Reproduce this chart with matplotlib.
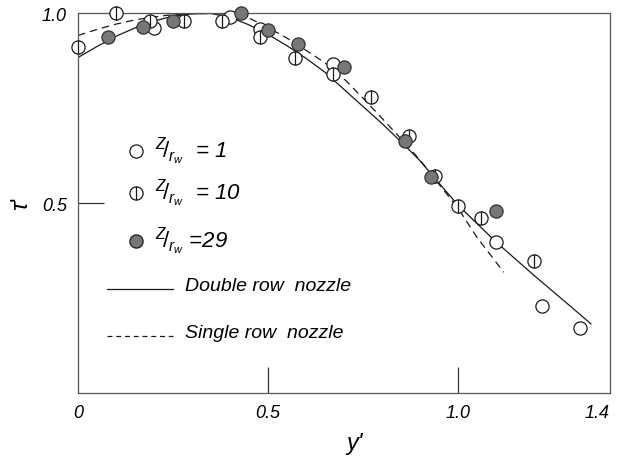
import matplotlib
matplotlib.use("Agg")
import matplotlib.pyplot as plt
from matplotlib.path import Path
from matplotlib.lines import Line2D

plt.rcParams['font.family'] = ['Liberation Sans', 'DejaVu Sans']
plt.rcParams['mathtext.fontset'] = 'custom'
plt.rcParams['mathtext.it'] = 'Liberation Sans:italic'
plt.rcParams['mathtext.rm'] = 'Liberation Sans'

# ---- data ----
z1_x = [0.20, 0.40, 0.48, 0.67, 1.10, 1.22, 1.32]
z1_y = [0.962, 0.990, 0.959, 0.867, 0.399, 0.230, 0.170]

z10_x = [0.0, 0.10, 0.19, 0.28, 0.38, 0.48, 0.57, 0.67, 0.77, 0.87, 0.94, 1.00, 1.06, 1.20]
z10_y = [0.913, 1.0, 0.981, 0.981, 0.981, 0.939, 0.883, 0.841, 0.779, 0.676, 0.571, 0.494, 0.460, 0.349]

z29_x = [0.08, 0.17, 0.25, 0.43, 0.50, 0.58, 0.70, 0.86, 0.93, 1.10]
z29_y = [0.937, 0.964, 0.981, 1.0, 0.957, 0.920, 0.858, 0.665, 0.568, 0.480]

double_x = [0, 0.05, 0.10, 0.15, 0.20, 0.25, 0.30, 0.35, 0.40, 0.45, 0.50, 0.55, 0.60, 0.65,
            0.70, 0.75, 0.80, 0.85, 0.90, 0.95, 1.00, 1.10, 1.20, 1.30, 1.35]
double_y = [0.884, 0.913, 0.940, 0.962, 0.980, 0.993, 0.999, 1.0, 0.990, 0.970, 0.945, 0.915,
            0.882, 0.845, 0.800, 0.755, 0.710, 0.662, 0.612, 0.553, 0.495, 0.398, 0.310, 0.225, 0.182]

single_x = [0, 0.05, 0.10, 0.15, 0.20, 0.25, 0.30, 0.35, 0.40, 0.45, 0.50, 0.55, 0.60, 0.65,
            0.70, 0.75, 0.80, 0.85, 0.90, 0.95, 1.00, 1.05, 1.10, 1.12]
single_y = [0.942, 0.958, 0.972, 0.983, 0.991, 0.997, 1.0, 1.0, 0.998, 0.988, 0.963, 0.935,
            0.903, 0.870, 0.828, 0.777, 0.724, 0.670, 0.614, 0.550, 0.487, 0.410, 0.345, 0.318]

xticks = [0, 0.5, 1.0, 1.4]
xticklabels = ['0', '0.5', '1.0', '1.4']
yticks = [0.5, 1.0]
yticklabels = ['0.5', '1.0']

legend_labels = [r'$^{Z}\!/_{r_w}$  = 1', r'$^{Z}\!/_{r_w}$  = 10', r'$^{Z}\!/_{r_w}$ =29',
                 'Double row  nozzle', 'Single row  nozzle']

# ---- marker for Z/rw = 10: circle with vertical bar ----
bar_marker = Path.make_compound_path(Path.unit_circle(),
                                     Path([(0, -1), (0, 1)], [Path.MOVETO, Path.LINETO]))

fig = plt.figure(figsize=(6.22, 4.6), dpi=100)
ax = fig.add_axes([0.1254, 0.1435, 0.8553, 0.825])
ax.set_xlim(0, 1.4)
ax.set_ylim(0, 1.0)

ink = '#1a1a1a'
ms = 9.5
ax.plot(double_x, double_y, '-', color=ink, lw=0.9, zorder=2)
ax.plot(single_x, single_y, '--', color=ink, lw=0.9, dashes=(6, 4), zorder=2)

ax.plot(z1_x, z1_y, 'o', ms=ms, mfc='white', mec=ink, mew=0.9, ls='none', zorder=3, clip_on=False)
ax.plot(z10_x, z10_y, marker=bar_marker, ms=ms, mfc='white', mec=ink, mew=0.9, ls='none',
        zorder=4, clip_on=False)
ax.plot(z29_x, z29_y, 'o', ms=ms, mfc='#777777', mec='#333333', mew=0.9, ls='none',
        zorder=5, clip_on=False)

for s in ax.spines.values():
    s.set_color('#555555')
    s.set_linewidth(0.9)

ax.set_xticks(xticks)
ax.set_xticklabels(xticklabels)
ax.set_yticks(yticks)
ax.set_yticklabels(yticklabels)
ax.tick_params(direction='in', length=19, width=0.9, color='#333333', labelsize=13, pad=8)
for t in ax.get_xticklabels() + ax.get_yticklabels():
    t.set_fontstyle('italic')
ax.get_xticklabels()[-1].set_horizontalalignment('right')
xt = ax.xaxis.get_major_ticks()
xt[0].tick1line.set_visible(False)
xt[-1].tick1line.set_visible(False)
ax.yaxis.get_major_ticks()[-1].tick1line.set_visible(False)

ax.set_xlabel("y'", fontsize=17, style='italic')
ax.xaxis.set_label_coords(0.52, -0.10)
ax.set_ylabel(r"$\tau$'", fontsize=17, rotation=90)
ax.yaxis.set_label_coords(-0.085, 0.5)

# ---- hand-drawn style legend inside the axes ----
tr = ax.transAxes
rows_y = [0.638, 0.527, 0.400, 0.274, 0.150]
styles = [dict(marker='o', mfc='white'), dict(marker=bar_marker, mfc='white'),
          dict(marker='o', mfc='#777777')]
for i in range(3):
    ax.add_line(Line2D([0.109], [rows_y[i]], transform=tr, ls='none', ms=ms, mec=ink, mew=0.9,
                       **styles[i]))
    ax.text(0.145, rows_y[i], legend_labels[i], transform=tr, fontsize=16, va='center',
            ha='left', style='italic')
ax.add_line(Line2D([0.0545, 0.1786], [rows_y[3]] * 2, transform=tr, color=ink, lw=0.9))
ax.add_line(Line2D([0.0545, 0.1786], [rows_y[4]] * 2, transform=tr, color=ink, lw=0.9,
                   dashes=(4, 3)))
for i in (3, 4):
    ax.text(0.201, rows_y[i] + 0.01, legend_labels[i], transform=tr, fontsize=14, va='center',
            ha='left', style='italic')

fig.savefig('out.png', dpi=100)
